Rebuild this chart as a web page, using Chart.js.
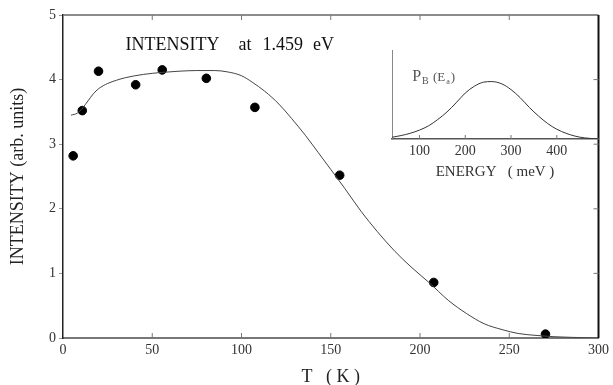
<!DOCTYPE html>
<html>
<head>
<meta charset="utf-8">
<script src="https://cdn.jsdelivr.net/npm/chart.js@4/dist/chart.umd.min.js"></script>
<style>
  body { margin: 0; background: #fff; }
  #wrap { position: relative; width: 613px; height: 385px; }
  #inset { position: absolute; left: 340px; top: 30px; pointer-events: none; }
</style>
</head>
<body>
<div id="wrap">
  <canvas id="mainChart" width="613" height="385"></canvas>
  <canvas id="inset" width="273" height="160"></canvas>
</div>
<script>
// measured points
var tempK = [5.7, 10.8, 19.9, 40.7, 55.6, 80.3, 107.5, 155.0, 207.7, 270.3];
var intensity = [2.82, 3.52, 4.13, 3.92, 4.15, 4.02, 3.57, 2.52, 0.86, 0.06];

// fitted curve
var fitT = [4.5, 8, 11, 14, 17, 20, 25, 30, 35, 45, 55, 65, 75, 85, 92, 100, 106, 113, 121, 128, 136, 143, 150, 158, 167, 176, 186, 195, 205, 216, 226, 236, 246, 255, 265, 275, 285, 300];
var fitI = [3.45, 3.48, 3.56, 3.67, 3.78, 3.86, 3.94, 3.99, 4.03, 4.08, 4.11, 4.13, 4.14, 4.14, 4.12, 4.06, 3.96, 3.82, 3.62, 3.40, 3.13, 2.87, 2.61, 2.31, 1.96, 1.65, 1.34, 1.10, 0.86, 0.58, 0.38, 0.22, 0.13, 0.07, 0.04, 0.02, 0.01, 0.0];

// inset: P_B(E_a) distribution
var energy = [40, 60, 80, 100, 120, 140, 160, 180, 200, 220, 240, 258, 280, 300, 320, 340, 360, 380, 400, 420, 440, 460, 490];
var probB = [0.03, 0.06, 0.10, 0.155, 0.23, 0.34, 0.47, 0.63, 0.80, 0.92, 0.99, 1.0, 0.96, 0.86, 0.72, 0.55, 0.40, 0.27, 0.17, 0.10, 0.05, 0.02, 0.0];

var xTicks = [0, 50, 100, 150, 200, 250, 300];
var yTicks = [0, 1, 2, 3, 4, 5];
var insetTicks = [100, 200, 300, 400];

var serif = "'Liberation Serif', 'DejaVu Serif', serif";

function toXY(xs, ys) {
    return xs.map(function(x, i) { return { x: x, y: ys[i] }; });
}

/* frame, inward ticks and the in-plot title */
var mainDeco = {
    id: 'mainDeco',
    afterDraw: function(chart) {
        var ctx = chart.ctx, a = chart.chartArea;
        var sx = chart.scales.x, sy = chart.scales.y;
        ctx.save();
        // top and right frame
        ctx.strokeStyle = '#666';
        ctx.lineWidth = 1.5;
        ctx.beginPath();
        ctx.moveTo(a.left, a.top);
        ctx.lineTo(a.right, a.top);
        ctx.stroke();
        ctx.strokeStyle = '#111';
        ctx.lineWidth = 2;
        ctx.beginPath();
        ctx.moveTo(a.right, a.top);
        ctx.lineTo(a.right, a.bottom);
        ctx.stroke();
        // inward ticks
        ctx.strokeStyle = '#777';
        ctx.lineWidth = 1;
        xTicks.slice(1, -1).forEach(function(t) {
            var px = sx.getPixelForValue(t);
            ctx.beginPath();
            ctx.moveTo(px, a.bottom); ctx.lineTo(px, a.bottom - 5);
            ctx.moveTo(px, a.top); ctx.lineTo(px, a.top + 5);
            ctx.stroke();
        });
        yTicks.slice(1, -1).forEach(function(t) {
            var py = sy.getPixelForValue(t);
            ctx.beginPath();
            ctx.moveTo(a.right, py); ctx.lineTo(a.right - 5, py);
            ctx.stroke();
        });
        // title inside the plot, words spread like the original
        ctx.fillStyle = '#111';
        ctx.font = '18px ' + serif;
        ctx.textBaseline = 'middle';
        ctx.textAlign = 'left';
        var x = sx.getPixelForValue(35), y = sy.getPixelForValue(4.53);
        [['INTENSITY', 19], ['at', 11], ['1.459', 10], ['eV', 0]].forEach(function(w) {
            ctx.fillText(w[0], x, y);
            x += ctx.measureText(w[0]).width + w[1];
        });
        ctx.restore();
    }
};

new Chart(document.getElementById('mainChart'), {
    type: 'scatter',
    data: {
        datasets: [{
            label: 'fit',
            data: toXY(fitT, fitI),
            showLine: true,
            borderColor: '#444',
            borderWidth: 1,
            pointRadius: 0,
            cubicInterpolationMode: 'monotone'
        }, {
            label: 'data',
            data: toXY(tempK, intensity),
            backgroundColor: '#000',
            borderColor: '#000',
            pointRadius: 4.3
        }]
    },
    options: {
        responsive: false,
        animation: false,
        layout: { padding: { left: 0, top: 15, right: 10, bottom: 0 } },
        plugins: { legend: { display: false }, tooltip: { enabled: false } },
        scales: {
            x: {
                type: 'linear', min: 0, max: 300,
                afterBuildTicks: function(s) { s.ticks = xTicks.map(function(v) { return { value: v }; }); },
                afterFit: function(s) { s.height = 47; },
                ticks: { color: '#333', padding: 4, font: { family: serif, size: 14 } },
                grid: { drawOnChartArea: false, drawTicks: false },
                border: { color: '#777', width: 2 },
                title: {
                    display: true, text: 'T   ( K )', color: '#222',
                    font: { family: serif, size: 18 }, padding: { top: 0, bottom: -3 }
                }
            },
            y: {
                min: 0, max: 5,
                afterBuildTicks: function(s) { s.ticks = yTicks.map(function(v) { return { value: v }; }); },
                afterFit: function(s) { s.width = 63; },
                ticks: { color: '#333', padding: 3, font: { family: serif, size: 14 } },
                grid: { drawOnChartArea: false, tickLength: 4, color: '#999' },
                border: { color: '#222', width: 1.5 },
                title: {
                    display: true, text: 'INTENSITY (arb. units)', color: '#222',
                    font: { family: serif, size: 18 }, padding: { top: 7, bottom: 0 }
                }
            }
        }
    },
    plugins: [mainDeco]
});

/* inset ticks and P_B(E_a) label */
var insetDeco = {
    id: 'insetDeco',
    afterDraw: function(chart) {
        var ctx = chart.ctx, a = chart.chartArea;
        var sx = chart.scales.x, sy = chart.scales.y;
        ctx.save();
        ctx.strokeStyle = '#777';
        ctx.lineWidth = 1;
        insetTicks.forEach(function(t) {
            var px = sx.getPixelForValue(t);
            ctx.beginPath();
            ctx.moveTo(px, a.bottom); ctx.lineTo(px, a.bottom - 4);
            ctx.stroke();
        });
        var x = sx.getPixelForValue(84), y = sy.getPixelForValue(1.09);
        ctx.fillStyle = '#555';
        ctx.textBaseline = 'alphabetic';
        ctx.textAlign = 'left';
        var parts = [['P', 16, 0], ['B', 10, 3], [' (E', 13, 0], ['a', 8, 3], [')', 13, 0]];
        parts.forEach(function(p) {
            ctx.font = p[1] + 'px ' + serif;
            ctx.fillText(p[0], x, y + 5 + p[2]);
            x += ctx.measureText(p[0]).width + 1;
        });
        ctx.restore();
    }
};

new Chart(document.getElementById('inset'), {
    type: 'scatter',
    data: {
        datasets: [{
            data: toXY(energy, probB),
            showLine: true,
            borderColor: '#333',
            borderWidth: 1,
            pointRadius: 0,
            cubicInterpolationMode: 'monotone'
        }]
    },
    options: {
        responsive: false,
        animation: false,
        layout: { padding: { left: 52, top: 20, right: 15, bottom: 0 } },
        plugins: { legend: { display: false }, tooltip: { enabled: false } },
        scales: {
            x: {
                type: 'linear', min: 40, max: 490,
                afterBuildTicks: function(s) { s.ticks = insetTicks.map(function(v) { return { value: v }; }); },
                afterFit: function(s) { s.height = 51; },
                ticks: { color: '#333', padding: 4, font: { family: serif, size: 14 } },
                grid: { display: false, drawTicks: false },
                border: { color: '#555', width: 1.5 },
                title: {
                    display: true, text: 'ENERGY   ( meV )', color: '#333',
                    font: { family: serif, size: 15 }, padding: { top: 0, bottom: 9 }
                }
            },
            y: {
                min: 0, max: 1.55,
                afterFit: function(s) { s.width = 0; },
                ticks: { display: false },
                grid: { display: false },
                border: { color: '#888', width: 1 }
            }
        }
    },
    plugins: [insetDeco]
});
</script>
</body>
</html>
